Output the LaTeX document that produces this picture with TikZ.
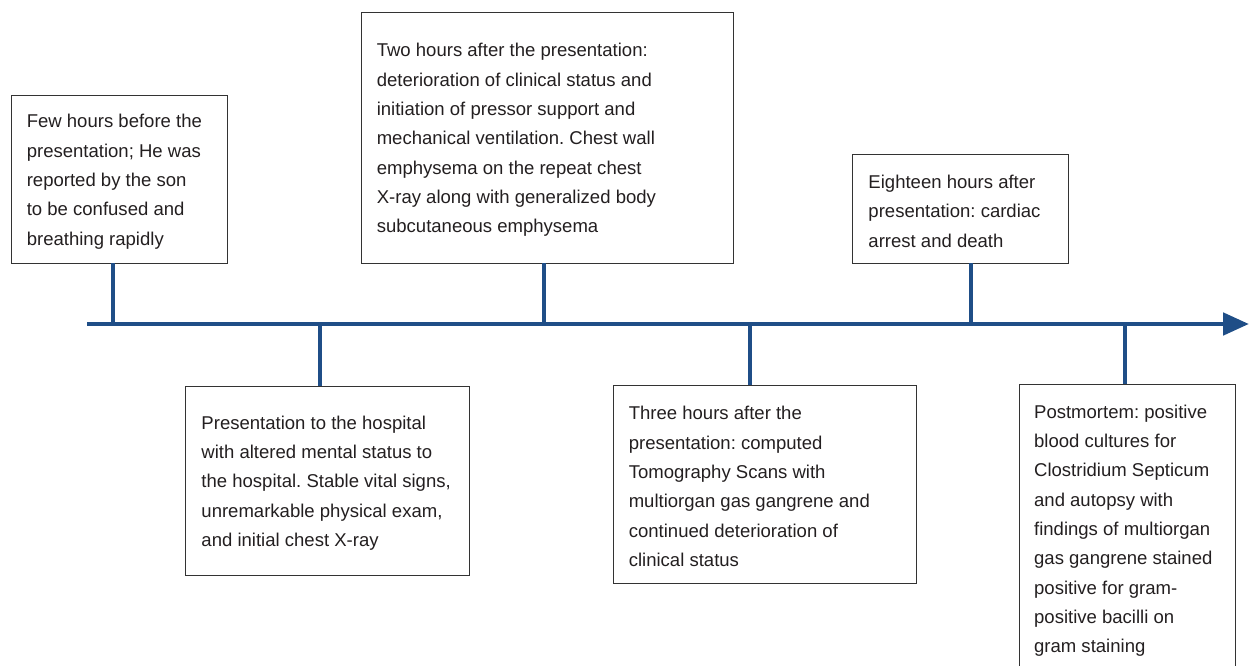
\documentclass[tikz,border=0pt]{standalone}
\usepackage{fontspec}
\setmainfont{Liberation Sans}
\usetikzlibrary{arrows.meta}
\definecolor{axisblue}{RGB}{31,78,135}
\definecolor{frame}{RGB}{51,51,51}
\definecolor{ink}{RGB}{35,31,32}
\frenchspacing
\begin{document}
\begin{tikzpicture}[x=0.75pt,y=-0.75pt,
  evframe/.style={draw=frame, line width=0.7pt, fill=white, rectangle, inner sep=0pt},
  evtext/.style={anchor=west, align=left, inner sep=0pt, text=ink, yshift=-2pt,
                 font={\fontsize{13.9pt}{22pt}\selectfont}},
  axisline/.style={draw=axisblue, line width=3.7pt},
  stem/.style={draw=axisblue, line width=3.7pt}]
\clip (0,0) rectangle (1249,666);
\fill[white] (0,0) rectangle (1249,666);

% event boxes (frame + text)
\node[evframe, minimum width=162pt, minimum height=126pt] (box1) at (119,179) {};
\node[evtext] (txt1) at ([xshift=12pt]box1.west)
  {Few hours before the\\presentation; He was\\reported by the son\\to be confused and\\breathing rapidly};

\node[evframe, minimum width=279pt, minimum height=188.25pt] (box2) at (547,137.5) {};
\node[evtext] (txt2) at ([xshift=12pt]box2.west)
  {Two hours after the presentation:\\deterioration of clinical status and\\initiation of pressor support and\\mechanical ventilation. Chest wall\\emphysema on the repeat chest\\X-ray along with generalized body\\subcutaneous emphysema};

\node[evframe, minimum width=162pt, minimum height=81.75pt] (box3) at (960,208.5) {};
\node[evtext] (txt3) at ([xshift=12.5pt]box3.west)
  {Eighteen hours after\\presentation: cardiac\\arrest and death};

\node[evframe, minimum width=213pt, minimum height=141.75pt] (box4) at (327,480.5) {};
\node[evtext] (txt4) at ([xshift=12.5pt]box4.west)
  {Presentation to the hospital\\with altered mental status to\\the hospital. Stable vital signs,\\unremarkable physical exam,\\and initial chest X-ray};

\node[evframe, minimum width=227.25pt, minimum height=148.5pt] (box5) at (764.5,484) {};
\node[evtext] (txt5) at ([xshift=12pt]box5.west)
  {Three hours after the\\presentation: computed\\Tomography Scans with\\multiorgan gas gangrene and\\continued deterioration of\\clinical status};

\node[evframe, minimum width=162pt, minimum height=216pt] (box6) at (1127,528) {};
\node[evtext] (txt6) at ([xshift=11.5pt]box6.west)
  {Postmortem: positive\\blood cultures for\\Clostridium Septicum\\and autopsy with\\findings of multiorgan\\gas gangrene stained\\positive for gram-\\positive bacilli on\\gram staining};

% points on the time axis
\coordinate (tlstart) at (87,324);
\coordinate (tlend) at (1249,324);
\coordinate (s1) at (113,324);
\coordinate (s2) at (320,324);
\coordinate (s3) at (544,324);
\coordinate (s4) at (750,324);
\coordinate (s5) at (971,324);
\coordinate (s6) at (1125,324);

% stems joining each box to the axis
\draw[stem] (box1.south -| s1) -- (s1);
\draw[stem] (box4.north -| s2) -- (s2);
\draw[stem] (box2.south -| s3) -- (s3);
\draw[stem] (box5.north -| s4) -- (s4);
\draw[stem] (box3.south -| s5) -- (s5);
\draw[stem] (box6.north -| s6) -- (s6);

% time axis
\draw[axisline, -{Triangle[length=19.5pt, width=16.5pt]}] (tlstart) -- (tlend);
\end{tikzpicture}
\end{document}
